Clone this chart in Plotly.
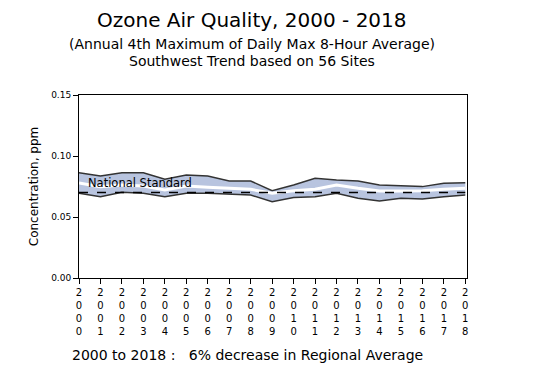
import plotly.graph_objects as go

years = list(range(2000, 2019))
upper = [0.0863, 0.0836, 0.0863, 0.0863, 0.0810, 0.0844, 0.0836, 0.0795, 0.0795, 0.0716,
         0.0762, 0.0817, 0.0803, 0.0795, 0.0762, 0.0754, 0.0749, 0.0776, 0.0781]
lower = [0.0694, 0.0667, 0.0703, 0.0694, 0.0667, 0.0694, 0.0694, 0.0686, 0.0680, 0.0626,
         0.0659, 0.0667, 0.0694, 0.0653, 0.0631, 0.0653, 0.0648, 0.0667, 0.0680]
average = [0.0778, 0.0749, 0.0762, 0.0754, 0.0721, 0.0754, 0.0743, 0.0735, 0.0727, 0.0694,
           0.0716, 0.0727, 0.0762, 0.0735, 0.0713, 0.0713, 0.0716, 0.0727, 0.0735]
standard = 0.070
tick_text = ["<br>".join(str(y)) for y in years]
y_ticks = [0.0, 0.05, 0.10, 0.15]

FONT = "DejaVu Sans"

fig = go.Figure()
fig.add_trace(go.Scatter(x=years, y=upper, mode="lines",
                         line=dict(color="#333333", width=1.5), showlegend=False))
fig.add_trace(go.Scatter(x=years, y=lower, mode="lines", fill="tonexty",
                         fillcolor="#b8c4df",
                         line=dict(color="#333333", width=1.5), showlegend=False))
fig.add_trace(go.Scatter(x=years, y=average, mode="lines",
                         line=dict(color="white", width=3), showlegend=False))
fig.add_trace(go.Scatter(x=[years[0], years[-1]], y=[standard, standard], mode="lines",
                         line=dict(color="black", width=1.5, dash="dash"), showlegend=False))

fig.add_annotation(x=years[0] + 0.33, y=0.0775, text="National Standard", showarrow=False,
                   xanchor="left", yanchor="middle", font=dict(family=FONT, size=11.5, color="black"))

CX = 0.446
fig.add_annotation(xref="paper", yref="paper", x=CX, y=1.0, yshift=75,
                   text="Ozone Air Quality, 2000 - 2018", showarrow=False,
                   font=dict(family=FONT, size=20, color="black"), xanchor="center", yanchor="middle")
fig.add_annotation(xref="paper", yref="paper", x=CX, y=1.0, yshift=51,
                   text="(Annual 4th Maximum of Daily Max 8-Hour Average)", showarrow=False,
                   font=dict(family=FONT, size=14, color="black"), xanchor="center", yanchor="middle")
fig.add_annotation(xref="paper", yref="paper", x=CX, y=1.0, yshift=34,
                   text="Southwest Trend based on 56 Sites", showarrow=False,
                   font=dict(family=FONT, size=14, color="black"), xanchor="center", yanchor="middle")
fig.add_annotation(xref="paper", yref="paper", x=-0.023, y=0.0, yshift=-77,
                   text="2000 to 2018 :   6% decrease in Regional Average", showarrow=False,
                   font=dict(family=FONT, size=14, color="black"), xanchor="left", yanchor="middle")

fig.update_layout(
    width=548, height=384,
    margin=dict(l=79, r=81, t=95, b=106),
    paper_bgcolor="white", plot_bgcolor="white",
    font=dict(family=FONT, size=10, color="black"),
    xaxis=dict(range=[2000, 2018.08], tickvals=years, ticktext=tick_text, tickangle=0,
               automargin=False,
               showgrid=False, zeroline=False, showline=True, linecolor="black", linewidth=1,
               mirror=True, ticks="outside", ticklen=5, tickcolor="black",
               tickfont=dict(family=FONT, size=10)),
    yaxis=dict(range=[0, 0.15], tickvals=y_ticks, tickformat=".2f", automargin=False,
               showgrid=False, zeroline=False, showline=True, linecolor="black", linewidth=1,
               mirror=True, ticks="outside", ticklen=5, tickcolor="black",
               tickfont=dict(family=FONT, size=9),
               title=dict(text="Concentration, ppm", font=dict(family=FONT, size=12), standoff=9)),
)

fig.write_html("out.html", config={"displayModeBar": False},
               post_script="document.body.style.margin='0';")
